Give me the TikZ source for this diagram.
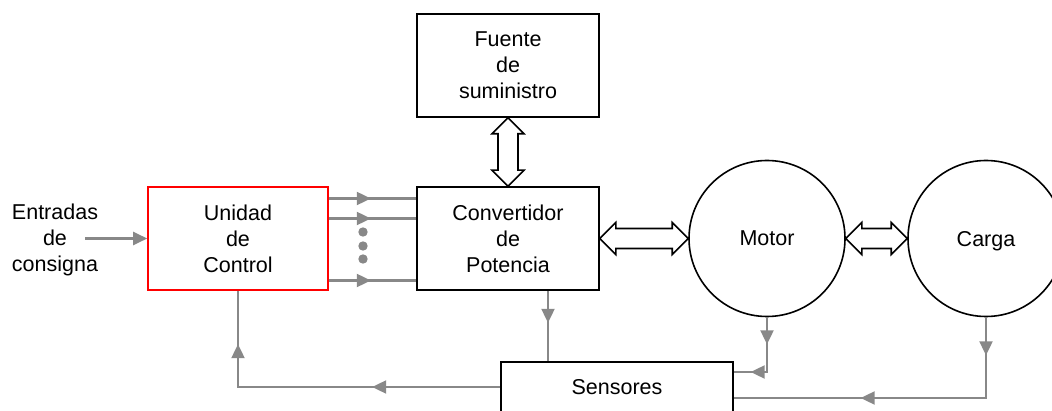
\documentclass[tikz,border=0pt]{standalone}
\usepackage{fontspec}
\setmainfont{Liberation Sans}
\usetikzlibrary{calc,arrows.meta,decorations.markings}
\definecolor{siggray}{HTML}{888888}

\tikzset{
    block/.style={draw, line width=1.6pt, minimum width=182pt, minimum height=103pt, inner sep=0pt},
    wheel/.style={draw, circle, line width=1.6pt, minimum size=156pt, inner sep=0pt, text depth=0pt},
    hollow/.style={draw, line width=1.6pt, fill=white, line join=miter},
    sig/.style={draw=siggray, color=siggray, line width=2.2pt},
    tipat/.style={postaction={decorate, decoration={markings,
        mark=at position #1 with {\arrow{Triangle[length=14pt,width=13pt]}}}}}
}

\begin{document}
\begin{tikzpicture}[x=1pt,y=-1pt, every node/.style={font=\fontsize{21.5}{26}\selectfont, align=center}]
    \useasboundingbox (0,0) rectangle (1052,411);
    \begin{scope}\clip (0,0) rectangle (1052,411);
    % blocks
    \node[block] (fuente) at (508,65.5) {Fuente\\de\\suministro};
    \node[block] (conv) at (508,238.5) {Convertidor\\de\\Potencia};
    \node[block, draw=red, minimum width=180pt] (uc) at (238,238.5) {Unidad\\de\\Control};
    \node[wheel] (motor) at (767,238.5) {Motor};
    \node[wheel] (carga) at (986,238.5) {Carga};
    \node[block, minimum width=232pt, minimum height=50pt] (sens) at (617,387) {Sensores};
    \node (entr) at (55,240) {Entradas\\de\\consigna};

    % power flow
    \draw[hollow] (fuente.south) -- ++(-16,16) -- ++(6,0) -- ($(conv.north)+(-10,-16)$) -- ++(-6,0)
        -- (conv.north) -- ++(16,-16) -- ++(-6,0) -- ($(fuente.south)+(10,16)$) -- ++(6,0) -- cycle;
    \draw[hollow] (conv.east) -- ++(16,-16) -- ++(0,6) -- ($(motor.west)+(-16,-10)$) -- ++(0,-6)
        -- (motor.west) -- ++(-16,16) -- ++(0,-6) -- ($(conv.east)+(16,10)$) -- ++(0,6) -- cycle;
    \draw[hollow] (motor.east) -- ++(16,-16) -- ++(0,6) -- ($(carga.west)+(-16,-10)$) -- ++(0,-6)
        -- (carga.west) -- ++(-16,16) -- ++(0,-6) -- ($(motor.east)+(16,10)$) -- ++(0,6) -- cycle;

    % control signals
    \coordinate (ein) at (85,0);
    \draw[sig, -{Triangle[length=14pt,width=13pt]}] (ein |- uc.west) -- (uc.west);
    \foreach \dy in {-40,-20,42}
        \draw[sig, tipat=42pt] ($(uc.east)+(0,\dy)$) -- ($(conv.west)+(0,\dy)$);
    \foreach \dy in {232,246,259}
        \fill[siggray] (363,\dy) circle (4.7);

    % measurements
    \coordinate (cs) at ($(conv.south)+(40,0)$);
    \coordinate (ms) at ($(sens.east)+(0,-15)$);
    \coordinate (ls) at ($(sens.east)+(0,11)$);
    \draw[sig, tipat=32pt] (cs) -- (cs |- sens.north);
    \draw[sig, tipat=27pt, tipat=71pt] (motor.south) |- (ms);
    \draw[sig, tipat=38pt, tipat=206pt] (carga.south) |- (ls);
    \draw[sig, tipat=128pt, tipat=305pt] (sens.west) -| (uc.south);
    \end{scope}
\end{tikzpicture}
\end{document}
